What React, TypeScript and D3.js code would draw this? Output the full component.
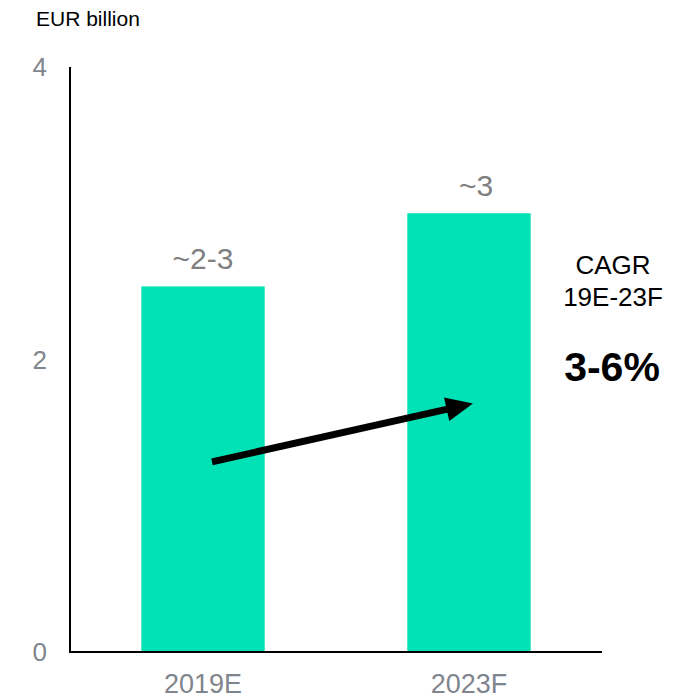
import React from "react";
import * as d3 from "d3";

const categories = ["2019E", "2023F"];
const values = [2.5, 3.0];
const valueLabels = ["~2-3", "~3"];
const labelShift = [0, 7];
const yTicks = [0, 2, 4];
const arrowFrom = { cat: "2019E", value: 1.3 };
const arrowTo = { cat: "2023F", value: 1.7 };
const cagrTitle = ["CAGR", "19E-23F"];
const cagrValue = "3-6%";
const unitLabel = "EUR billion";

const W = 692;
const H = 699;
const FONT = "'Liberation Sans', Arial, Helvetica, sans-serif";

export default function App() {
  const x = d3
    .scaleBand<string>()
    .domain(categories)
    .range([70, 602])
    .paddingInner(0.536)
    .paddingOuter(0.268);
  const y = d3.scaleLinear().domain([0, 4]).range([652, 67]);
  const bw = x.bandwidth();

  const x1 = (x(arrowFrom.cat) ?? 0) + bw / 2 + 9;
  const y1 = y(arrowFrom.value);
  const x2 = (x(arrowTo.cat) ?? 0) + bw / 2 + 4;
  const y2 = y(arrowTo.value);
  const ang = Math.atan2(y2 - y1, x2 - x1);
  const headLen = 27;
  const headHalf = 12;
  const bx = x2 - headLen * Math.cos(ang);
  const by = y2 - headLen * Math.sin(ang);
  const px = -Math.sin(ang);
  const py = Math.cos(ang);
  const head = [
    [x2, y2],
    [bx + px * headHalf, by + py * headHalf],
    [bx - px * headHalf, by - py * headHalf],
  ];

  return (
    <svg
      width={W}
      height={H}
      style={{ position: "absolute", left: 0, top: 0, fontFamily: FONT }}
    >
      <rect x={0} y={0} width={W} height={H} fill="#ffffff" />
      <text x={36} y={26} fontSize={21} fill="#000">
        {unitLabel}
      </text>
      {yTicks.map((t) => (
        <text
          key={t}
          x={47}
          y={y(t)}
          dy="0.36em"
          textAnchor="end"
          fontSize={26}
          fill="#7f858d"
        >
          {t}
        </text>
      ))}
      {categories.map((c, i) => (
        <g key={c}>
          <rect
            x={x(c)}
            y={y(values[i])}
            width={bw}
            height={y(0) - y(values[i])}
            fill="#00E2B6"
          />
          <text
            x={(x(c) ?? 0) + bw / 2 + labelShift[i]}
            y={y(values[i]) - 17}
            textAnchor="middle"
            fontSize={30}
            fill="#7f7f7f"
          >
            {valueLabels[i]}
          </text>
          <text
            x={(x(c) ?? 0) + bw / 2}
            y={693}
            textAnchor="middle"
            fontSize={27}
            fill="#7f858d"
          >
            {c}
          </text>
        </g>
      ))}
      <line x1={70} x2={70} y1={67} y2={653} stroke="#000" strokeWidth={2} />
      <line x1={69} x2={602} y1={652} y2={652} stroke="#000" strokeWidth={2} />
      <line
        x1={x1}
        y1={y1}
        x2={bx + 2 * Math.cos(ang)}
        y2={by + 2 * Math.sin(ang)}
        stroke="#000"
        strokeWidth={7}
      />
      <polygon points={head.map((p) => p.join(",")).join(" ")} fill="#000" />
      <text x={613} y={274} textAnchor="middle" fontSize={26} fill="#000">
        {cagrTitle[0]}
      </text>
      <text x={613} y={306} textAnchor="middle" fontSize={26} fill="#000">
        {cagrTitle[1]}
      </text>
      <text
        x={612}
        y={381}
        textAnchor="middle"
        fontSize={41}
        fontWeight="bold"
        fill="#000"
      >
        {cagrValue}
      </text>
    </svg>
  );
}
